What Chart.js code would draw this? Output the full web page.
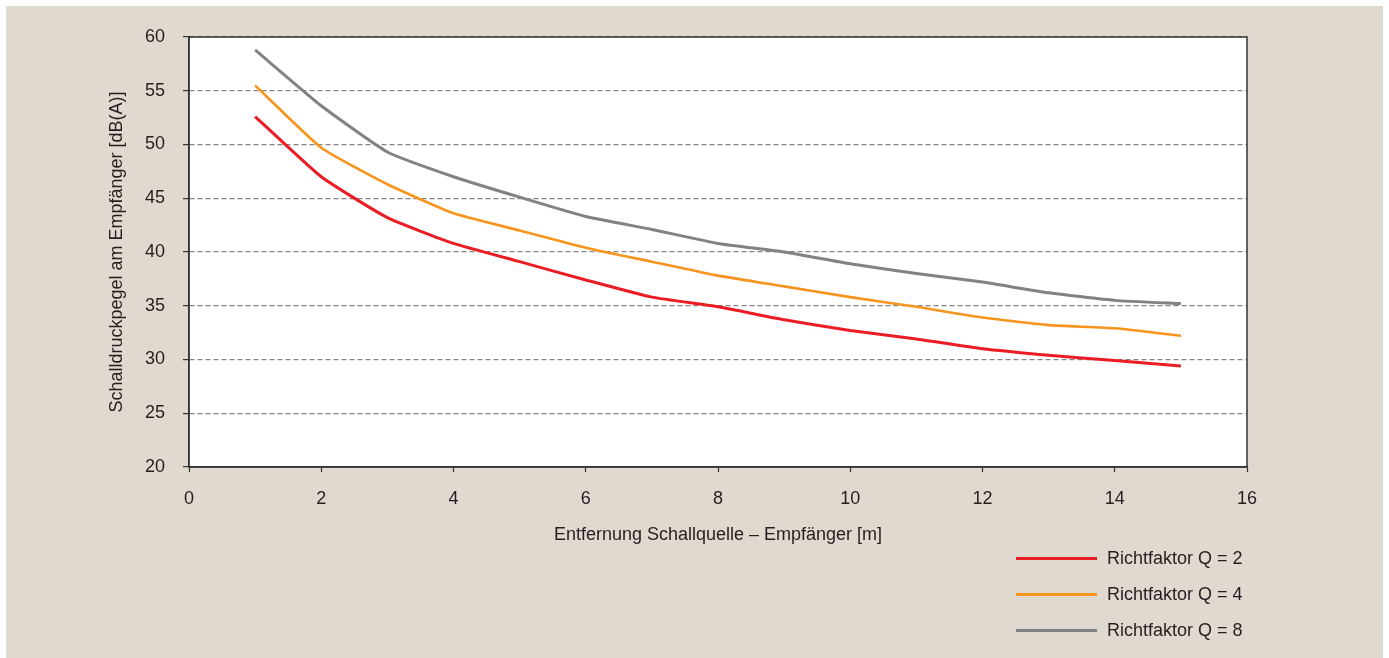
<!DOCTYPE html>
<html lang="de">
<head>
<meta charset="utf-8">
<title>Schalldruckpegel am Empfänger</title>
<script src="https://cdn.jsdelivr.net/npm/chart.js@4.4.1/dist/chart.umd.min.js"></script>
<style>
    html, body { margin: 0; padding: 0; background: #ffffff; }
    #rahmen {
        position: absolute; left: 6px; top: 6px;
        width: 1377px; height: 652px;
        background: #e0d9cf;
    }
    #diagramm { position: absolute; left: 0; top: 0; }
    #legende {
        position: absolute; left: 1010px; top: 534px;
        font-family: "Liberation Sans Narrow", "Liberation Sans", sans-serif;
        font-size: 18px; color: #231f20;
    }
    .eintrag { height: 36px; display: flex; align-items: center; }
    .strich { width: 81px; height: 3px; margin-right: 10px; }
</style>
</head>
<body>
<div id="rahmen">
    <canvas id="diagramm" width="1377" height="652"></canvas>
    <div id="legende"></div>
</div>
<script>
// Entfernung in m
const entfernungen = [1, 2, 3, 4, 5, 6, 7, 8, 9, 10, 11, 12, 13, 14, 15];
// Schalldruckpegel dB(A) je Richtfaktor
const pegelQ2 = [52.6, 47.0, 43.2, 40.8, 39.1, 37.4, 35.8, 34.9, 33.7, 32.7, 31.9, 31.0, 30.4, 29.9, 29.4];
const pegelQ4 = [55.5, 49.7, 46.3, 43.6, 42.0, 40.4, 39.1, 37.8, 36.8, 35.8, 34.9, 33.9, 33.2, 32.9, 32.2];
const pegelQ8 = [58.8, 53.6, 49.3, 47.0, 45.1, 43.3, 42.1, 40.8, 40.0, 38.9, 38.0, 37.2, 36.2, 35.5, 35.2];
const serienNamen = ['Richtfaktor Q = 2', 'Richtfaktor Q = 4', 'Richtfaktor Q = 8'];
const serienFarben = ['#ec1c24', '#f7941d', '#808285'];

const schrift = '"Liberation Sans Narrow", "Liberation Sans", sans-serif';
const textFarbe = '#231f20';

function punkte(werte) {
    return entfernungen.map((x, i) => ({ x: x, y: werte[i] }));
}

// weiße Zeichenfläche mit Rahmen
const rahmenPlugin = {
    id: 'rahmenPlugin',
    beforeDraw(chart) {
        const a = chart.chartArea;
        const ctx = chart.ctx;
        ctx.save();
        ctx.fillStyle = '#ffffff';
        ctx.fillRect(a.left, a.top, a.right - a.left, a.bottom - a.top);
        ctx.restore();
    },
    afterDraw(chart) {
        const a = chart.chartArea;
        const ctx = chart.ctx;
        ctx.save();
        ctx.strokeStyle = '#333333';
        ctx.lineWidth = 1.5;
        ctx.setLineDash([]);
        ctx.strokeRect(a.left, a.top, a.right - a.left, a.bottom - a.top);
        ctx.restore();
    }
};

const ctx = document.getElementById('diagramm');
const diagramm = new Chart(ctx, {
    type: 'line',
    data: {
        datasets: [pegelQ2, pegelQ4, pegelQ8].map((werte, i) => ({
            label: serienNamen[i],
            data: punkte(werte),
            borderColor: serienFarben[i],
            backgroundColor: serienFarben[i],
            borderWidth: i === 1 ? 2.6 : 3,
            pointRadius: 0,
            tension: 0.15,
            fill: false
        }))
    },
    options: {
        responsive: false,
        animation: false,
        layout: { padding: { left: 96, top: 31, right: 136, bottom: 108 } },
        plugins: {
            legend: { display: false },
            tooltip: { enabled: false }
        },
        scales: {
            x: {
                type: 'linear',
                min: 0,
                max: 16,
                afterFit: s => { s.height = 83; },
                ticks: {
                    stepSize: 2,
                    padding: 16,
                    color: textFarbe,
                    font: { family: schrift, size: 18 }
                },
                grid: {
                    drawOnChartArea: false,
                    drawTicks: true,
                    tickLength: 5,
                    tickColor: '#333333',
                    tickWidth: 1.2
                },
                border: { color: '#333333', width: 1.5 },
                title: {
                    display: true,
                    text: 'Entfernung Schallquelle – Empfänger [m]',
                    color: textFarbe,
                    font: { family: schrift, size: 18 },
                    padding: { top: 4, bottom: 4 }
                }
            },
            y: {
                min: 20,
                max: 60,
                afterFit: s => { s.width = 87; },
                ticks: {
                    stepSize: 5,
                    padding: 18,
                    color: textFarbe,
                    font: { family: schrift, size: 18 }
                },
                grid: {
                    color: '#858585',
                    lineWidth: 1.2,
                    tickBorderDash: [],
                    tickLength: 6,
                    tickColor: '#333333',
                    tickWidth: 1.2
                },
                border: { color: '#333333', width: 1.5, dash: [5, 3] },
                title: {
                    display: true,
                    text: 'Schalldruckpegel am Empfänger [dB(A)]',
                    color: textFarbe,
                    font: { family: schrift, size: 18 },
                    padding: { top: 4, bottom: 4 }
                }
            }
        }
    },
    plugins: [rahmenPlugin]
});

// Legende aus den Datensätzen aufbauen
const legende = document.getElementById('legende');
diagramm.data.datasets.forEach(ds => {
    const zeile = document.createElement('div');
    zeile.className = 'eintrag';
    const strich = document.createElement('span');
    strich.className = 'strich';
    strich.style.background = ds.borderColor;
    const text = document.createElement('span');
    text.textContent = ds.label;
    zeile.appendChild(strich);
    zeile.appendChild(text);
    legende.appendChild(zeile);
});
</script>
</body>
</html>
